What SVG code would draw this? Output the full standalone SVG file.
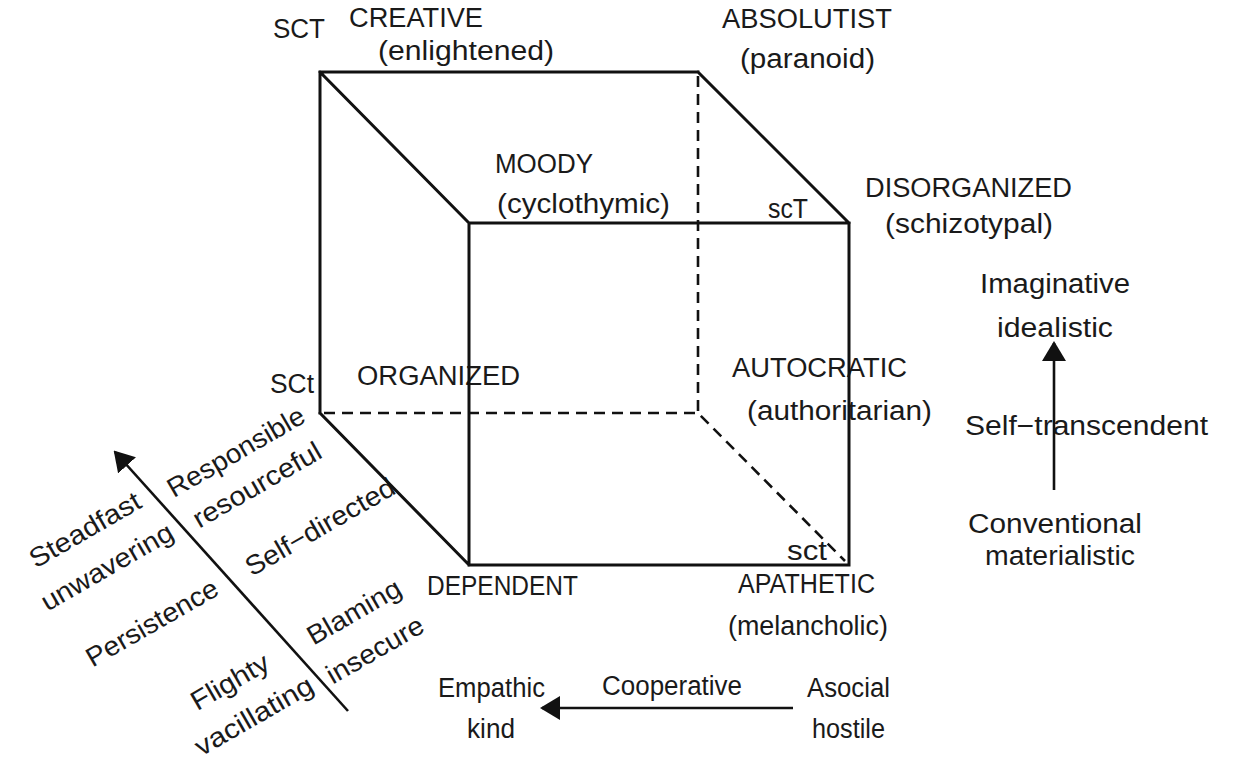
<svg xmlns="http://www.w3.org/2000/svg" width="1236" height="761" viewBox="0 0 1236 761">
<style>
text{font-family:"Liberation Sans",Arial,sans-serif;font-size:27px;fill:#1a1a1a}
.e{stroke:#111;stroke-width:3;fill:none;stroke-linecap:square}
.d{stroke:#111;stroke-width:2.6;fill:none;stroke-dasharray:11 7}
.a{stroke:#111;stroke-width:2.6;fill:none}
</style>
<defs>
<marker id="ah" viewBox="0 0 20 24" refX="18" refY="12" markerUnits="userSpaceOnUse" markerWidth="20" markerHeight="24" orient="auto">
<path d="M0,0 L20,12 L0,24 Z" fill="#111"/>
</marker>
</defs>
<rect width="1236" height="761" fill="#fff"/>

<g id="corner-SCT"><text x="273" y="38" textLength="52" lengthAdjust="spacingAndGlyphs">SCT</text></g>
<g id="node-creative"><text x="349" y="27" textLength="134" lengthAdjust="spacingAndGlyphs">CREATIVE</text><text x="378" y="60" textLength="176" lengthAdjust="spacingAndGlyphs">(enlightened)</text></g>
<g id="node-absolutist"><text x="722" y="28" textLength="170" lengthAdjust="spacingAndGlyphs">ABSOLUTIST</text><text x="740" y="68" textLength="135" lengthAdjust="spacingAndGlyphs">(paranoid)</text></g>
<g id="node-moody"><text x="495" y="173" textLength="98" lengthAdjust="spacingAndGlyphs">MOODY</text><text x="497" y="213" textLength="173" lengthAdjust="spacingAndGlyphs">(cyclothymic)</text></g>
<g id="corner-scT"><text x="768" y="218" textLength="40" lengthAdjust="spacingAndGlyphs">scT</text></g>
<g id="node-disorganized"><text x="865" y="197" textLength="207" lengthAdjust="spacingAndGlyphs">DISORGANIZED</text><text x="885" y="233" textLength="168" lengthAdjust="spacingAndGlyphs">(schizotypal)</text></g>
<g id="corner-SCt"><text x="270" y="393" textLength="44" lengthAdjust="spacingAndGlyphs">SCt</text></g>
<g id="node-organized"><text x="357" y="385" textLength="163" lengthAdjust="spacingAndGlyphs">ORGANIZED</text></g>
<g id="node-autocratic"><text x="732" y="377" textLength="175" lengthAdjust="spacingAndGlyphs">AUTOCRATIC</text><text x="747" y="420" textLength="185" lengthAdjust="spacingAndGlyphs">(authoritarian)</text></g>
<g id="corner-sct"><text x="787" y="560" textLength="40" lengthAdjust="spacingAndGlyphs">sct</text></g>
<g id="node-dependent"><text x="427" y="595" textLength="151" lengthAdjust="spacingAndGlyphs">DEPENDENT</text></g>
<g id="node-apathetic"><text x="738" y="593" textLength="137" lengthAdjust="spacingAndGlyphs">APATHETIC</text><text x="728" y="635" textLength="160" lengthAdjust="spacingAndGlyphs">(melancholic)</text></g>

<g id="axis-T-labels">
<text x="980" y="293" textLength="150" lengthAdjust="spacingAndGlyphs">Imaginative</text>
<text x="997" y="337" textLength="116" lengthAdjust="spacingAndGlyphs">idealistic</text>
<text x="965" y="435" textLength="243" lengthAdjust="spacingAndGlyphs">Self−transcendent</text>
<text x="968" y="533" textLength="174" lengthAdjust="spacingAndGlyphs">Conventional</text>
<text x="985" y="565" textLength="150" lengthAdjust="spacingAndGlyphs">materialistic</text>
</g>
<g id="axis-C-labels">
<text x="438" y="697" textLength="107" lengthAdjust="spacingAndGlyphs">Empathic</text>
<text x="467" y="738" textLength="48" lengthAdjust="spacingAndGlyphs">kind</text>
<text x="602" y="695" textLength="140" lengthAdjust="spacingAndGlyphs">Cooperative</text>
<text x="807" y="697" textLength="83" lengthAdjust="spacingAndGlyphs">Asocial</text>
<text x="812" y="738" textLength="73" lengthAdjust="spacingAndGlyphs">hostile</text>
</g>
<g id="axis-S-labels" text-anchor="middle">
<text transform="translate(85,530) rotate(-30)" y="9" textLength="124" lengthAdjust="spacingAndGlyphs">Steadfast</text>
<text transform="translate(107,567) rotate(-30)" y="9" textLength="148" lengthAdjust="spacingAndGlyphs">unwavering</text>
<text transform="translate(236,452) rotate(-30)" y="9" textLength="154" lengthAdjust="spacingAndGlyphs">Responsible</text>
<text transform="translate(257,485) rotate(-30)" y="9" textLength="144" lengthAdjust="spacingAndGlyphs">resourceful</text>
<text transform="translate(320,527) rotate(-30)" y="9" textLength="168" lengthAdjust="spacingAndGlyphs">Self−directed</text>
<text transform="translate(152,623) rotate(-30)" y="9" textLength="148" lengthAdjust="spacingAndGlyphs">Persistence</text>
<text transform="translate(354,612) rotate(-30)" y="9" textLength="104" lengthAdjust="spacingAndGlyphs">Blaming</text>
<text transform="translate(375,650) rotate(-30)" y="9" textLength="108" lengthAdjust="spacingAndGlyphs">insecure</text>
<text transform="translate(230,682) rotate(-30)" y="9" textLength="86" lengthAdjust="spacingAndGlyphs">Flighty</text>
<text transform="translate(254,716) rotate(-30)" y="9" textLength="132" lengthAdjust="spacingAndGlyphs">vacillating</text>
</g>

<g id="connectors">
<path class="e" d="M320,72 H698 M320,72 V413 M320,72 L469,223 M698,72 L849,223 M469,223 H849 V565 H469 Z M320,413 L469,565"/>
<path class="d" d="M698,76 V413 M324,413 H698 L845,561"/>
<line class="a" x1="348" y1="711" x2="115" y2="452" marker-end="url(#ah)"/>
<line class="a" x1="1054" y1="490" x2="1054" y2="343" marker-end="url(#ah)"/>
<line class="a" x1="793" y1="708" x2="542" y2="708" marker-end="url(#ah)"/>
</g>
</svg>
